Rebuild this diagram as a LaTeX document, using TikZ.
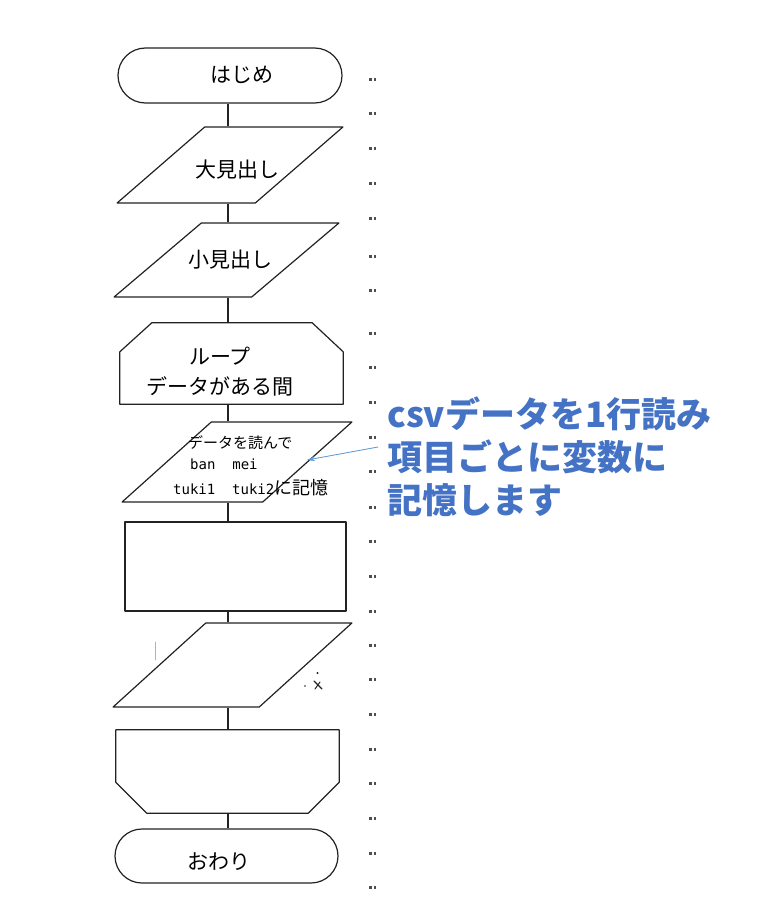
\documentclass[tikz,border=0pt]{standalone}
\usepackage{fontspec}
\setmainfont{Noto Sans CJK JP}
\newfontfamily\halfw{DejaVu Sans Mono}
\usetikzlibrary{shapes.geometric,shapes.misc,arrows.meta}
\definecolor{noteblue}{HTML}{4472C4}
\definecolor{arrowblue}{HTML}{5B9BD5}
\definecolor{linegray}{HTML}{222222}
\begin{document}
\begin{tikzpicture}[line join=round,line cap=round,>=stealth,x=1pt,y=-1pt,
	box/.style={draw=linegray,line width=1.2pt,inner sep=3pt},
	term/.style={box,rounded rectangle},
	io/.style={box,trapezium,trapezium left angle=60,trapezium right angle=120,trapezium stretches=true},
	hold/.style={inner sep=0pt,rectangle},
	outline/.style={draw=linegray,line width=1.2pt},
	conn/.style={draw=linegray,line width=2.2pt,line cap=butt},
	lbl/.style={inner sep=0pt,font=\fontsize{21}{30}\selectfont},
	small/.style={inner sep=0pt,font=\fontsize{15}{15}\selectfont}]
					\useasboundingbox (0,0) rectangle (756,907);
					% flow
					\node[term,minimum width=230pt,minimum height=55pt] (start) at (230,75.5) {\strut};
					\node[io,minimum width=226pt,minimum height=76pt] (p1) at (230,165) {\strut};
					\node[io,minimum width=225pt,minimum height=74pt] (p2) at (226.5,260) {\strut};
					\node[hold,minimum width=223pt,minimum height=81pt] (loop) at (231.5,363.5) {};
					\node[io,minimum width=230pt,minimum height=80pt] (p4) at (237,462) {\strut};
					\node[box,rectangle,minimum width=221pt,minimum height=89pt] (rect) at (235.5,566.5) {};
					\node[io,minimum width=239pt,minimum height=84pt] (p3) at (232.5,665) {\strut};
					\node[hold,minimum width=223pt,minimum height=83pt] (loopend) at (227.5,771.5) {};
					\node[term,minimum width=229pt,minimum height=54pt] (end) at (226.5,856) {\strut};
					% loop limits
					\draw[outline] (loop.south west) -- ([yshift=-29pt]loop.north west) -- ([xshift=32pt]loop.north west)
						-- ([xshift=-31pt]loop.north east) -- ([yshift=-29pt]loop.north east) -- (loop.south east) -- cycle;
					\draw[outline] (loopend.north west) -- ([yshift=31pt]loopend.south west) -- ([xshift=31pt]loopend.south west)
						-- ([xshift=-31pt]loopend.south east) -- ([yshift=31pt]loopend.south east) -- (loopend.north east) -- cycle;
					\coordinate (ax) at (228,0);
					\draw[conn] (start.south -| ax) -- (p1.north -| ax);
					\draw[conn] (p1.south -| ax) -- (p2.north -| ax);
					\draw[conn] (p2.south -| ax) -- (loop.north -| ax);
					\draw[conn] (loop.south -| ax) -- (p4.north -| ax);
					\draw[conn] (p4.south -| ax) -- (rect.north -| ax);
					\draw[conn] (rect.south -| ax) -- (p3.north -| ax);
					\draw[conn] (p3.south -| ax) -- (loopend.north -| ax);
					\draw[conn] (loopend.south -| ax) -- (end.north -| ax);
					% texts
					\node[lbl] (tstart) at (242,75) {はじめ};
					\node[lbl] (tp1) at (237,170) {大見出し};
					\node[lbl] (tp2) at (230,260) {小見出し};
					\node[lbl,align=center] (tloop) at (220,372) {ループ\\データがある間};
					\node[small,anchor=west] (tread) at (188,443) {データを読んで};
					\node[small,anchor=west] (tvar) at (190,464) {{\halfw\fontsize{14}{14}\selectfont ban\ \ mei}};
					\node[small,anchor=west] (tvar2) at (173,488) {{\halfw\fontsize{14}{14}\selectfont tuki1\ \ tuki2}{\fontsize{18}{18}\selectfont に記憶}};
					\node[lbl] (tend) at (219,862) {おわり};
					% note
					\node[inner sep=0pt,anchor=west,align=left,text=noteblue,font=\bfseries\fontsize{35}{43}\selectfont] (note) at (387,457) {csvデータを1行読み\\項目ごとに変数に\\記憶します};
					\coordinate (notetail) at (378,447);
					\coordinate (notetip) at (307,460);
					\draw[-{Stealth[length=8pt,width=5pt]},draw=arrowblue,fill=arrowblue,line width=0.8pt] (notetail) -- (notetip);
					% marks
					\foreach \y in {79,113,148,183,218,256,290,333,367,402,437,471,507,541,576,611,645,679,714,749,783,818,853,887}{
						\fill[linegray!80] (369,\y-1) rectangle +(2.5,2.5);
						\fill[linegray!80] (373.5,\y-1) rectangle +(2.5,2.5);
					}
					\draw[gray!60,line width=0.6pt] (155,642) -- (155,660);
					\fill[linegray] (317.5,673) circle (1.2);
					\fill[linegray] (305,686) circle (0.8);
					\draw[linegray,line width=1.2pt] (314,681) -- (322,689);
					\draw[linegray,line width=1pt] (315,689) -- (320,682);
				\end{tikzpicture}
\end{document}
